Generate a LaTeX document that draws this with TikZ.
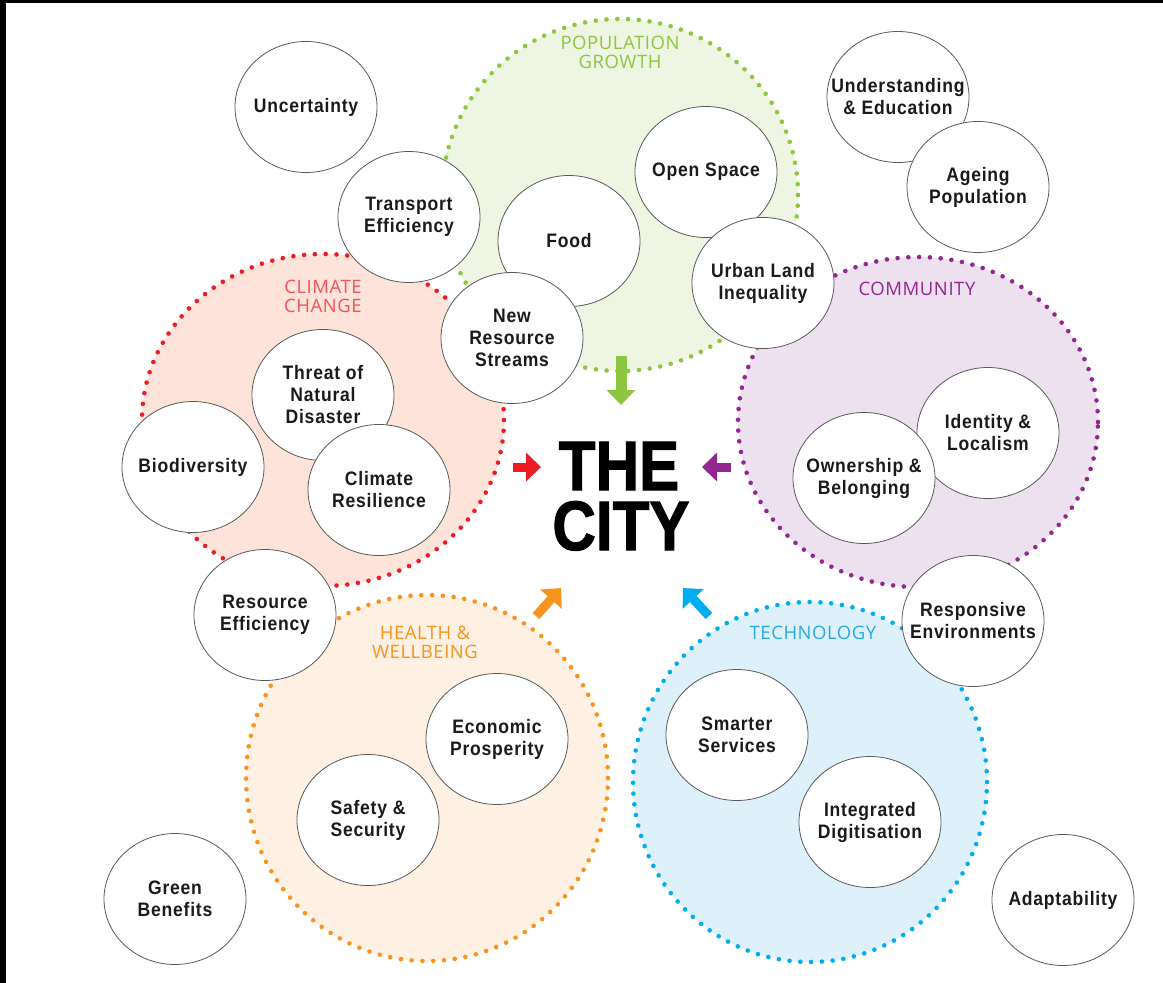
\documentclass[tikz,border=0pt]{standalone}
\usepackage{fontspec}
\usetikzlibrary{shapes.geometric,arrows.meta}
\newfontfamily\labfont{Liberation Sans}[FakeStretch=0.9,LetterSpace=4]
\newfontfamily\cityfont{Liberation Sans}[FakeStretch=0.86,FakeBold=1.5]
\newfontfamily\headfont{Open Sans}[LetterSpace=3]

\definecolor{pgdot}{HTML}{8DC63F}\definecolor{pgfill}{HTML}{EEF5E3}
\definecolor{ccdot}{HTML}{ED1C24}\definecolor{ccfill}{HTML}{FDE3DA}\definecolor{cctext}{HTML}{F0555A}
\definecolor{cmdot}{HTML}{92278F}\definecolor{cmfill}{HTML}{EDE1EF}
\definecolor{hwdot}{HTML}{F7941D}\definecolor{hwfill}{HTML}{FEF0E2}
\definecolor{tcdot}{HTML}{00AEEF}\definecolor{tcfill}{HTML}{DEF1FB}\definecolor{tctext}{HTML}{29ABE2}
\definecolor{ink}{HTML}{1A1A1A}

\begin{document}
\begin{tikzpicture}[x=1pt,y=-1pt,
  region/.style 2 args={ellipse, fill=#1, draw=#2, line width=4.6pt,
    dash pattern=on 0pt off 10.8pt, line cap=round, inner sep=0pt},
  head/.style={align=center, inner sep=0pt,
    font=\headfont\fontsize{18.5}{19}\selectfont},
  bubble/.style={ellipse, draw=black!65, line width=0.8pt, fill=white,
    minimum width=142pt, minimum height=131pt,
    inner xsep=-40pt, inner ysep=-30pt, align=center,
    text=ink, font=\labfont\bfseries\fontsize{19.5}{22}\selectfont},
  flow/.style={draw=#1, line width=11pt,
    -{Triangle[length=15pt,width=28pt,fill=#1]}},
  city/.style={inner sep=0pt, text=black, text height=50pt, text depth=0pt,
    font=\cityfont\bfseries\fontsize{70}{60}\selectfont}]

\useasboundingbox (0,0) rectangle (1163,983);
\fill[white] (0,0) rectangle (1163,983);
\fill[black] (0,0) rectangle (1163,3);
\fill[black] (0,0) rectangle (6,983);

% the five driver regions
\node[region={pgfill}{pgdot}, minimum width=356pt, minimum height=352pt] (pg) at (620,195) {};
\node[region={ccfill}{ccdot}, minimum width=362pt, minimum height=332pt] (cc) at (323,420) {};
\node[region={cmfill}{cmdot}, minimum width=360pt, minimum height=330pt] (cm) at (918,422) {};
\node[region={hwfill}{hwdot}, minimum width=362pt, minimum height=366pt] (hw) at (427,778) {};
\node[region={tcfill}{tcdot}, minimum width=354pt, minimum height=360pt] (tc) at (810,782) {};

% region titles
\node[head, text=pgdot] (pgh) at (620,52) {POPULATION\\GROWTH};
\node[head, text=cctext] (cch) at (323,296) {CLIMATE\\CHANGE};
\node[head, text=cmdot] (cmh) at (917,289) {COMMUNITY};
\node[head, text=hwdot] (hwh) at (425,642) {HEALTH \&\\WELLBEING};
\node[head, text=tctext] (tch) at (813,633) {TECHNOLOGY};

% issues
\node[bubble] (unc) at (306,107) {Uncertainty};
\node[bubble] (tra) at (409,217) {Transport\\Efficiency};
\node[bubble] (food) at (569,241) {Food};
\node[bubble] (open) at (706,172) {Open Space};
\node[bubble] (urb) at (763,283) {Urban Land\\Inequality};
\node[bubble] (nrs) at (512,338) {New\\Resource\\Streams};
\node[bubble] (und) at (898,97) {Understanding\\\& Education};
\node[bubble] (age) at (978,187) {Ageing\\Population};
\node[bubble] (thr) at (323,395) {Threat of\\Natural\\Disaster};
\node[bubble] (bio) at (193,467) {Biodiversity};
\node[bubble] (res) at (379,490) {Climate\\Resilience};
\node[bubble] (ref) at (265,615) {Resource\\Efficiency};
\node[bubble] (ide) at (988,433) {Identity \&\\Localism};
\node[bubble] (own) at (864,478) {Ownership \&\\Belonging};
\node[bubble] (rsp) at (973,621) {Responsive\\Environments};
\node[bubble] (eco) at (497,739) {Economic\\Prosperity};
\node[bubble] (saf) at (368,820) {Safety \&\\Security};
\node[bubble] (sma) at (737,735) {Smarter\\Services};
\node[bubble] (dig) at (870,822) {Integrated\\Digitisation};
\node[bubble] (grn) at (175,899) {Green\\Benefits};
\node[bubble] (ada) at (1063,900) {Adaptability};

% centre
\node[city] (cityA) at (619,465) {THE};
\node[city] (cityB) at (621,525) {CITY};

% arrows into the city
\coordinate (pgA) at (621,356); \coordinate (pgB) at (621,405);
\coordinate (ccA) at (513,467); \coordinate (ccB) at (541,467);
\coordinate (cmA) at (731,467); \coordinate (cmB) at (702,467);
\coordinate (hwA) at (536,616); \coordinate (hwB) at (561,588);
\coordinate (tcA) at (709,616); \coordinate (tcB) at (683,588);
\draw[flow=pgdot] (pgA) -- (pgB);
\draw[flow=ccdot, line width=9pt] (ccA) -- (ccB);
\draw[flow=cmdot, line width=9pt] (cmA) -- (cmB);
\draw[flow=hwdot, line width=9pt] (hwA) -- (hwB);
\draw[flow=tcdot, line width=9pt] (tcA) -- (tcB);
\end{tikzpicture}
\end{document}
